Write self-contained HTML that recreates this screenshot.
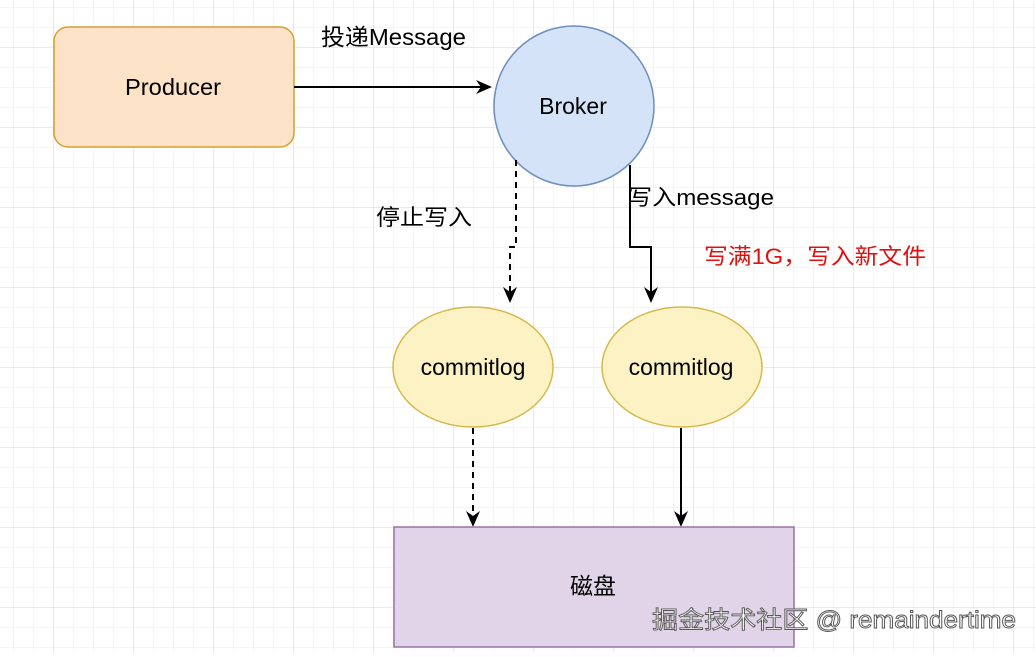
<!DOCTYPE html>
<html><head><meta charset="utf-8"><style>
body{margin:0;width:1036px;height:652px;overflow:hidden;background:#fff}
svg text{font-family:"Liberation Sans","Noto Sans CJK SC",sans-serif;}
</style></head><body>
<svg width="1036" height="652" viewBox="0 0 1036 652" xmlns="http://www.w3.org/2000/svg">
<defs>
<pattern id="g" x="13" y="7" width="20" height="20" patternUnits="userSpaceOnUse"><path d="M0 0H20M0 0V20" stroke="#ebebeb" stroke-width="1" fill="none"/></pattern>
<pattern id="G" x="53" y="47" width="80" height="80" patternUnits="userSpaceOnUse"><path d="M0 0H80M0 0V80" stroke="#d4d4d4" stroke-width="1" fill="none"/></pattern>
<marker id="a" markerWidth="16" markerHeight="16" refX="14" refY="8" orient="auto" markerUnits="userSpaceOnUse"><path d="M0 1L16 8L0 15L5 8Z" fill="#000"/></marker>
</defs>
<rect width="1036" height="652" fill="url(#g)"/>
<rect width="1036" height="652" fill="url(#G)"/>
<rect x="54" y="27" width="240" height="120" rx="14" fill="#fce2c6" stroke="#d6a032" stroke-width="1.5"/>
<text x="125" y="95" font-size="23" textLength="96" lengthAdjust="spacingAndGlyphs">Producer</text>
<circle cx="574" cy="106" r="80" fill="#d4e3f7" stroke="#6d8ebf" stroke-width="1.5"/>
<text x="573" y="114" font-size="23" text-anchor="middle">Broker</text>
<line x1="294" y1="87" x2="490" y2="87" stroke="#000" stroke-width="2" marker-end="url(#a)"/>
<text x="321" y="45" font-size="23" textLength="145" lengthAdjust="spacingAndGlyphs">投递Message</text>
<path d="M516 160V247H510V301" fill="none" stroke="#000" stroke-width="2" stroke-dasharray="6 5" marker-end="url(#a)"/>
<path d="M630 165V247H651V301" fill="none" stroke="#000" stroke-width="2" marker-end="url(#a)"/>
<text x="376" y="225" font-size="22" textLength="96" lengthAdjust="spacingAndGlyphs">停止写入</text>
<text x="628" y="205" font-size="22" textLength="146" lengthAdjust="spacingAndGlyphs">写入message</text>
<text x="704" y="264" font-size="22" fill="#e01010" textLength="222" lengthAdjust="spacingAndGlyphs">写满1G，写入新文件</text>
<ellipse cx="473" cy="367" rx="80" ry="60" fill="#fdf2c4" stroke="#d6b84a" stroke-width="1.5"/>
<ellipse cx="682" cy="367" rx="80" ry="60" fill="#fdf2c4" stroke="#d6b84a" stroke-width="1.5"/>
<text x="473" y="375" font-size="23" text-anchor="middle">commitlog</text>
<text x="681" y="375" font-size="23" text-anchor="middle">commitlog</text>
<line x1="473" y1="428" x2="473" y2="525" stroke="#000" stroke-width="2" stroke-dasharray="6 5" marker-end="url(#a)"/>
<line x1="681" y1="428" x2="681" y2="525" stroke="#000" stroke-width="2" marker-end="url(#a)"/>
<rect x="394" y="527" width="400" height="120" fill="#e1d4e8" stroke="#9673a6" stroke-width="1.5"/>
<text x="593" y="594" font-size="23" text-anchor="middle">磁盘</text>
<text x="652" y="628" font-size="24" fill="#fff" stroke="#555" stroke-width="0.9" textLength="364" lengthAdjust="spacingAndGlyphs">掘金技术社区 @ remaindertime</text>
</svg>
</body></html>
